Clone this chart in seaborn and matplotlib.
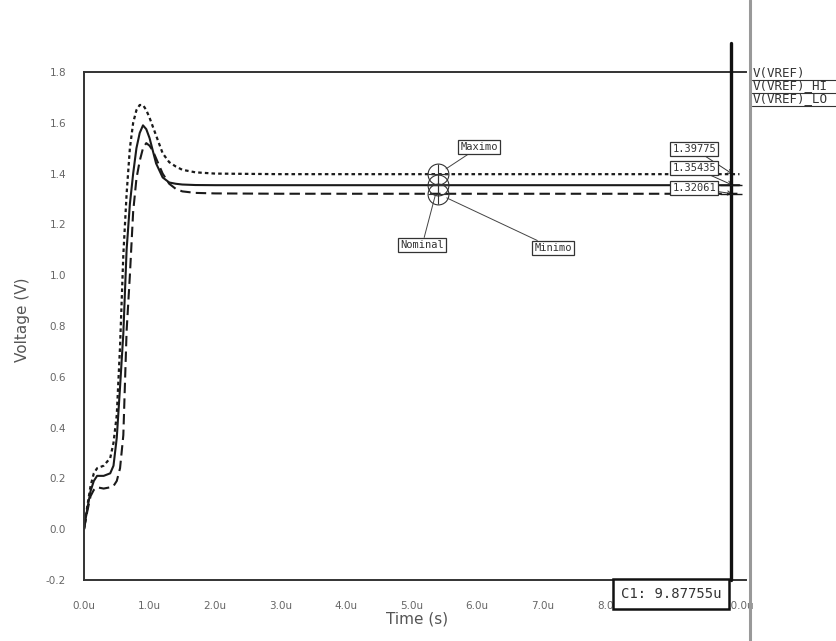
import matplotlib
matplotlib.use("Agg")
import matplotlib.pyplot as plt
import matplotlib.ticker as mticker
from matplotlib.lines import Line2D
import seaborn as sns
import pandas as pd

# ---- data (time in microseconds, voltage in V) ----
t_us = [0.0, 0.05, 0.1, 0.15, 0.2, 0.3, 0.4, 0.45, 0.5, 0.55, 0.6, 0.65, 0.7,
        0.75, 0.8, 0.85, 0.9, 0.95, 1.0, 1.05, 1.1, 1.2, 1.3, 1.4, 1.5, 1.7,
        2.0, 3.0, 5.0, 8.0, 10.0]
v_nominal = [0.0, 0.08, 0.15, 0.19, 0.21, 0.21, 0.22, 0.25, 0.36, 0.56, 0.77,
             1.10, 1.28, 1.40, 1.50, 1.56, 1.59, 1.575, 1.54, 1.49, 1.44,
             1.385, 1.365, 1.36, 1.357, 1.355, 1.3544, 1.35435, 1.35435,
             1.35435, 1.35435]
v_maximo = [0.0, 0.09, 0.17, 0.22, 0.24, 0.25, 0.28, 0.34, 0.45, 0.72, 1.08,
            1.32, 1.50, 1.60, 1.65, 1.67, 1.67, 1.65, 1.62, 1.585, 1.55, 1.48,
            1.445, 1.428, 1.415, 1.405, 1.40, 1.3978, 1.39775, 1.39775, 1.39775]
v_minimo = [0.0, 0.07, 0.13, 0.155, 0.165, 0.16, 0.165, 0.17, 0.19, 0.24, 0.37,
            0.78, 1.0, 1.25, 1.38, 1.45, 1.50, 1.52, 1.51, 1.49, 1.46, 1.40,
            1.36, 1.34, 1.33, 1.324, 1.322, 1.3207, 1.32061, 1.32061, 1.32061]

final_values = [1.39775, 1.35435, 1.32061]
value_labels = ["1.39775", "1.35435", "1.32061"]
marker_t = 5.4
cursor_t = 9.87755
trace_names = ["V(VREF)", "V(VREF)_HI", "V(VREF)_LO"]

df = pd.DataFrame({"t": t_us, "nom": v_nominal, "max": v_maximo, "min": v_minimo})

# ---- figure ----
sns.set_style("white")
plt.rcParams["font.family"] = ["DejaVu Sans"]
fig = plt.figure(figsize=(8.37, 6.41), dpi=100)
ax = fig.add_axes([84/837, 1 - 580/641, (746 - 84)/837, (580 - 72)/641])

ink = "#1a1a1a"
sns.lineplot(data=df, x="t", y="max", ax=ax, color=ink, lw=1.6,
             linestyle=(0, (1.6, 1.4)), estimator=None)
sns.lineplot(data=df, x="t", y="nom", ax=ax, color=ink, lw=1.5,
             linestyle="-", estimator=None)
sns.lineplot(data=df, x="t", y="min", ax=ax, color=ink, lw=1.5,
             linestyle=(0, (5, 2.5)), estimator=None)

ax.set_xlim(0, 10.1)
ax.set_ylim(-0.2, 1.8)

# axes / ticks
for s in ["left", "top", "bottom"]:
    ax.spines[s].set_color("#333333")
    ax.spines[s].set_linewidth(1.4)
ax.spines["right"].set_visible(False)

ax.xaxis.set_major_locator(mticker.MultipleLocator(1.0))
ax.xaxis.set_minor_locator(mticker.MultipleLocator(0.5))
ax.xaxis.set_major_formatter(mticker.FuncFormatter(lambda v, p: f"{v:.1f}u"))
ax.yaxis.set_major_locator(mticker.MultipleLocator(0.2))
ax.yaxis.set_minor_locator(mticker.MultipleLocator(0.1))
ax.yaxis.set_major_formatter(mticker.FuncFormatter(lambda v, p: f"{v:.1f}"))
ax.tick_params(axis="both", which="major", direction="out", length=11,
               width=1.0, color="#444444", labelsize=7.5, labelcolor="#666666")
ax.tick_params(axis="both", which="minor", direction="out", length=5,
               width=0.8, color="#555555")
ax.tick_params(axis="x", which="major", length=8, pad=7)
ax.tick_params(axis="y", which="major", pad=2)

ax.set_xlabel("Time (s)", fontsize=11, color="#555555")
ax.set_ylabel("Voltage (V)", fontsize=11, color="#555555")
ax.xaxis.set_label_coords(0.503, -0.062)
ax.yaxis.set_label_coords(-0.082, 0.512)

# cursor line
ax.plot([cursor_t, cursor_t], [-0.2, 1.914], color="#111111", lw=2.4,
        clip_on=False, zorder=4)
for v in final_values[1:]:
    ax.plot(cursor_t, v, marker="_", ms=16, mew=1.0, color=ink, zorder=4)

# circle markers on each trace
for v in final_values:
    ax.plot(marker_t, v, marker="o", ms=15, mfc="none", mec="#333333", mew=0.8)
    ax.plot(marker_t, v, marker="+", ms=15, mec="#333333", mew=0.8)

box = dict(boxstyle="square,pad=0.2", fc="white", ec="#333333", lw=0.9)
mono = "DejaVu Sans Mono"
ax.annotate("Maximo", xy=(marker_t, final_values[0]), xytext=(6.03, 1.505),
            ha="center", va="center", fontsize=7.5, family=mono, color="#333333",
            bbox=box, arrowprops=dict(arrowstyle="-", lw=0.7, color="#444444",
                                      shrinkA=0, shrinkB=7))
ax.annotate("Nominal", xy=(marker_t, final_values[1]), xytext=(5.16, 1.119),
            ha="center", va="center", fontsize=7.5, family=mono, color="#333333",
            bbox=box, arrowprops=dict(arrowstyle="-", lw=0.7, color="#444444",
                                      shrinkA=0, shrinkB=7))
ax.annotate("Minimo", xy=(marker_t, final_values[2]), xytext=(7.16, 1.107),
            ha="center", va="center", fontsize=7.5, family=mono, color="#333333",
            bbox=box, arrowprops=dict(arrowstyle="-", lw=0.7, color="#444444",
                                      shrinkA=0, shrinkB=7))

# value boxes near cursor
box_y = [1.497, 1.422, 1.343]
for lab, v, yb in zip(value_labels, final_values, box_y):
    ax.annotate(lab, xy=(cursor_t + 0.02, v), xytext=(9.31, yb),
                ha="center", va="center", fontsize=7.5, family=mono,
                color="#333333", bbox=box,
                arrowprops=dict(arrowstyle="->", lw=0.7, color="#333333",
                                shrinkA=0, shrinkB=0))

# cursor readout (covers the 9.0u label, as in the capture)
fig.text(671/837, 1 - 594/641, f"C1: {cursor_t:.5f}u", ha="center",
         va="center", fontsize=10, family=mono, color="#333333", zorder=10,
         bbox=dict(boxstyle="square,pad=0.55", fc="white", ec="#111111", lw=1.8))

# divider and trace names on the right
fig.add_artist(Line2D([750/837, 750/837], [0, 1], color="#999999", lw=2.2))
for i, name in enumerate(trace_names):
    y = 1 - (73 + 13*i)/641
    fig.text(753/837, y, name, ha="left", va="center", fontsize=9,
             family=mono, color="#333333")
    fig.add_artist(Line2D([752/837, 1.0], [y - 6.5/641, y - 6.5/641],
                          color="#333333", lw=0.8))

fig.savefig("out.png", dpi=100)
